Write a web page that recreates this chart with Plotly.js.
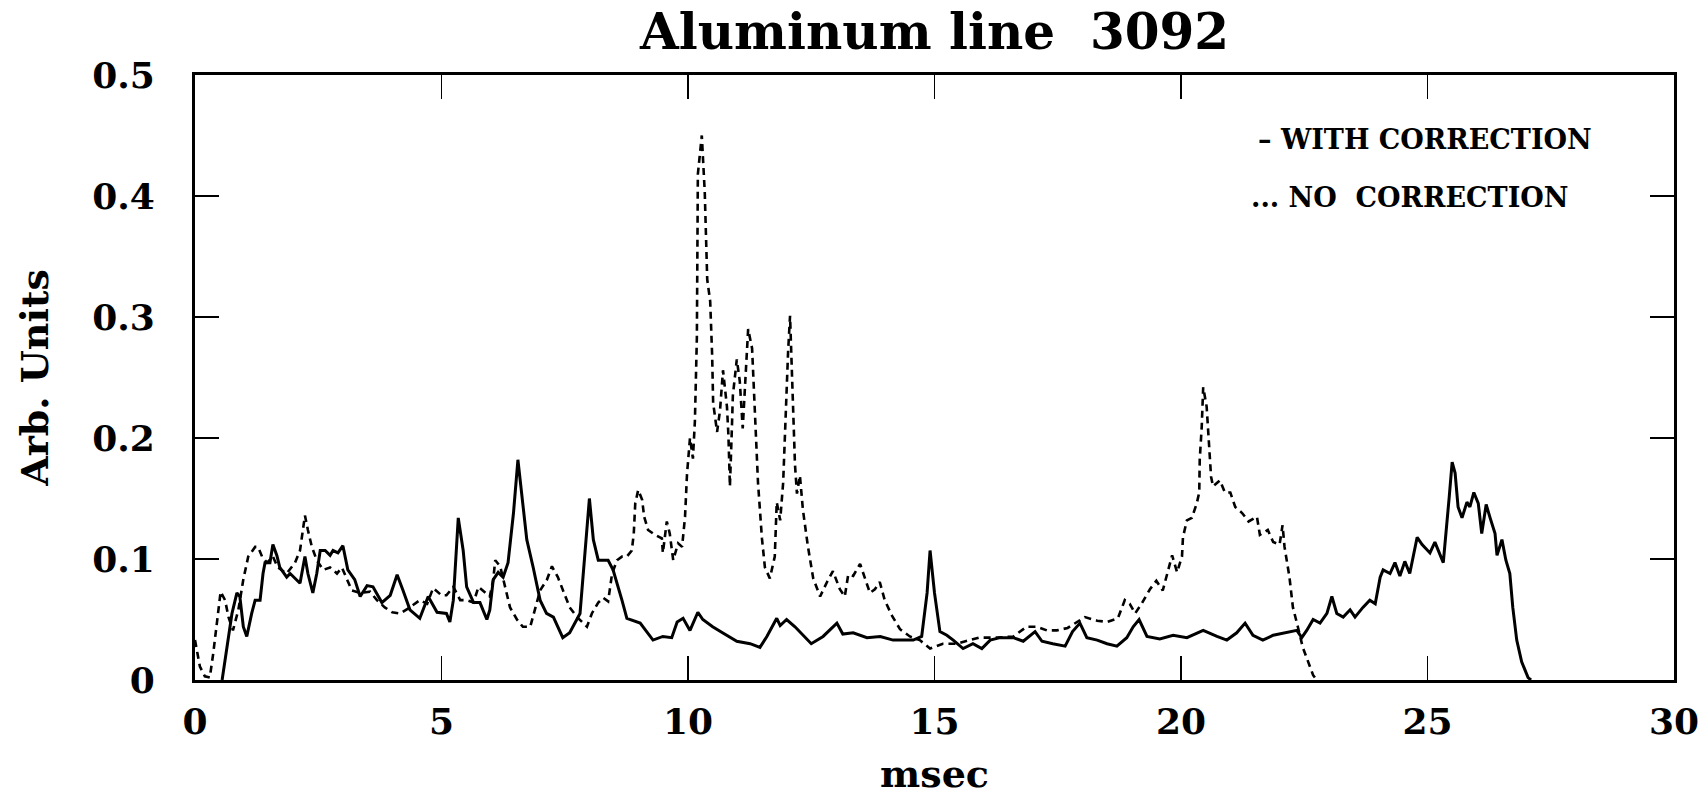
<!DOCTYPE html>
<html>
<head>
<meta charset="utf-8">
<script src="https://cdn.plot.ly/plotly-3.0.1.min.js"></script>
<style>html,body{margin:0;padding:0;background:#fff;}#chart{width:1708px;height:796px;}</style>
</head>
<body>
<div id="chart"></div>
<script>
// WITH CORRECTION (solid)
const withX = [0.55,0.65,0.75,0.85,0.91,0.98,1.05,1.15,1.22,1.32,1.38,1.42,1.52,1.58,1.66,1.72,1.86,1.93,2.03,2.13,2.23,2.29,2.39,2.47,2.54,2.64,2.74,2.8,2.9,3.0,3.1,3.24,3.35,3.49,3.61,3.79,3.96,4.1,4.22,4.36,4.56,4.73,4.91,5.1,5.17,5.24,5.34,5.44,5.51,5.65,5.78,5.92,5.98,6.05,6.15,6.25,6.35,6.46,6.55,6.63,6.73,6.86,7.0,7.13,7.27,7.46,7.6,7.81,7.94,8.0,8.08,8.18,8.38,8.48,8.66,8.76,9.03,9.29,9.49,9.67,9.78,9.9,10.04,10.2,10.3,10.5,10.7,10.99,11.26,11.46,11.6,11.8,11.87,12.0,12.17,12.5,12.74,13.02,13.14,13.35,13.63,13.9,14.16,14.57,14.74,14.85,14.91,15.0,15.11,15.25,15.38,15.58,15.78,15.96,16.13,16.33,16.6,16.8,17.04,17.18,17.4,17.65,17.8,17.95,18.09,18.3,18.5,18.7,18.9,19.03,19.15,19.31,19.57,19.84,20.12,20.45,20.73,20.93,21.13,21.3,21.46,21.66,21.87,22.15,22.35,22.45,22.55,22.68,22.82,22.96,23.06,23.16,23.29,23.43,23.53,23.69,23.83,23.94,24.04,24.1,24.24,24.34,24.44,24.54,24.64,24.79,24.89,25.05,25.15,25.32,25.39,25.44,25.5,25.56,25.62,25.7,25.8,25.86,25.94,26.03,26.1,26.19,26.27,26.37,26.41,26.51,26.59,26.67,26.73,26.81,26.91,27.04,27.1];
const withY = [0,0.027,0.055,0.072,0.069,0.044,0.036,0.055,0.066,0.066,0.088,0.097,0.097,0.112,0.103,0.093,0.085,0.088,0.084,0.080,0.102,0.088,0.072,0.088,0.107,0.107,0.103,0.107,0.105,0.111,0.091,0.083,0.069,0.078,0.077,0.064,0.070,0.087,0.074,0.058,0.051,0.069,0.056,0.055,0.048,0.066,0.134,0.107,0.077,0.064,0.064,0.050,0.058,0.083,0.089,0.085,0.097,0.138,0.182,0.151,0.116,0.093,0.066,0.055,0.052,0.035,0.039,0.055,0.121,0.150,0.116,0.099,0.099,0.091,0.066,0.051,0.047,0.033,0.036,0.035,0.048,0.051,0.041,0.056,0.050,0.044,0.039,0.032,0.030,0.027,0.036,0.051,0.045,0.050,0.044,0.030,0.036,0.047,0.038,0.039,0.035,0.036,0.033,0.033,0.036,0.072,0.107,0.072,0.040,0.037,0.033,0.026,0.030,0.026,0.033,0.035,0.035,0.032,0.040,0.032,0.030,0.028,0.040,0.047,0.035,0.033,0.030,0.028,0.035,0.044,0.050,0.036,0.034,0.037,0.035,0.041,0.036,0.033,0.039,0.047,0.037,0.033,0.037,0.039,0.041,0.035,0.041,0.050,0.047,0.055,0.069,0.055,0.052,0.058,0.052,0.060,0.066,0.063,0.085,0.091,0.088,0.097,0.086,0.098,0.088,0.118,0.112,0.105,0.114,0.097,0.126,0.151,0.180,0.171,0.143,0.134,0.147,0.143,0.155,0.146,0.121,0.145,0.134,0.121,0.103,0.116,0.099,0.088,0.060,0.033,0.015,0.002,0];

// NO CORRECTION (dashed)
const noX = [0,0.1,0.2,0.3,0.37,0.44,0.52,0.61,0.68,0.77,0.88,0.98,1.08,1.22,1.28,1.36,1.46,1.58,1.68,1.86,2.03,2.13,2.19,2.23,2.29,2.37,2.47,2.6,2.74,2.88,2.98,3.08,3.18,3.35,3.55,3.69,3.85,4.0,4.16,4.32,4.56,4.71,4.83,5.0,5.1,5.24,5.38,5.51,5.65,5.75,5.88,5.98,6.05,6.09,6.19,6.29,6.39,6.53,6.65,6.8,6.9,7.0,7.14,7.24,7.36,7.46,7.6,7.75,7.95,8.05,8.18,8.28,8.38,8.46,8.56,8.66,8.76,8.86,8.9,8.93,8.99,9.07,9.11,9.19,9.33,9.47,9.49,9.57,9.63,9.7,9.8,9.88,9.94,9.98,10.04,10.1,10.14,10.18,10.2,10.28,10.34,10.39,10.45,10.49,10.51,10.59,10.65,10.71,10.79,10.82,10.85,10.89,10.91,10.99,11.05,11.11,11.16,11.22,11.3,11.36,11.42,11.5,11.56,11.66,11.76,11.8,11.87,11.93,11.97,12.03,12.07,12.13,12.17,12.21,12.27,12.33,12.43,12.54,12.68,12.82,12.94,13.08,13.18,13.25,13.35,13.49,13.59,13.69,13.79,13.89,13.99,14.14,14.3,14.5,14.7,14.91,15.17,15.45,15.9,16.27,16.6,16.87,17.08,17.28,17.48,17.7,18.05,18.3,18.5,18.72,18.86,18.96,19.07,19.2,19.37,19.5,19.63,19.74,19.82,19.92,20.02,20.04,20.12,20.22,20.32,20.37,20.38,20.42,20.45,20.52,20.57,20.61,20.65,20.79,20.89,21.0,21.1,21.24,21.37,21.54,21.6,21.76,21.87,22.0,22.06,22.1,22.2,22.27,22.37,22.47,22.58,22.68,22.75];
const noY = [0.033,0.011,0.003,0.002,0.022,0.044,0.073,0.066,0.052,0.041,0.058,0.083,0.102,0.110,0.110,0.102,0.097,0.102,0.093,0.088,0.097,0.107,0.124,0.136,0.124,0.110,0.099,0.091,0.093,0.088,0.093,0.083,0.074,0.072,0.073,0.066,0.060,0.056,0.055,0.059,0.066,0.063,0.076,0.070,0.070,0.077,0.066,0.066,0.064,0.077,0.072,0.069,0.083,0.099,0.094,0.077,0.060,0.050,0.044,0.044,0.060,0.074,0.083,0.094,0.085,0.074,0.060,0.052,0.044,0.055,0.064,0.068,0.065,0.088,0.099,0.102,0.102,0.107,0.121,0.146,0.157,0.149,0.135,0.124,0.120,0.117,0.105,0.131,0.121,0.099,0.113,0.110,0.135,0.170,0.200,0.183,0.214,0.283,0.418,0.450,0.403,0.331,0.313,0.268,0.229,0.205,0.223,0.256,0.226,0.202,0.160,0.208,0.235,0.265,0.247,0.208,0.247,0.290,0.274,0.223,0.163,0.117,0.093,0.084,0.102,0.147,0.132,0.163,0.208,0.271,0.301,0.223,0.178,0.154,0.169,0.141,0.111,0.084,0.069,0.081,0.090,0.075,0.069,0.087,0.086,0.096,0.084,0.072,0.075,0.081,0.066,0.053,0.042,0.036,0.033,0.026,0.030,0.030,0.035,0.035,0.036,0.044,0.044,0.041,0.041,0.043,0.052,0.049,0.048,0.051,0.066,0.063,0.055,0.063,0.075,0.082,0.074,0.091,0.103,0.089,0.102,0.118,0.132,0.134,0.146,0.155,0.182,0.209,0.242,0.226,0.196,0.168,0.160,0.165,0.155,0.155,0.143,0.138,0.131,0.135,0.120,0.124,0.114,0.112,0.128,0.110,0.085,0.060,0.044,0.027,0.015,0.004,0];

const xTicks = [0,5,10,15,20,25,30];
const yTicks = [0,0.1,0.2,0.3,0.4,0.5];
const yTickText = ['0','0.1','0.2','0.3','0.4','0.5'];
const titleText = 'Aluminum line\u00a0\u00a03092';
const legendText = ['\u2013\u00a0WITH CORRECTION', '...\u00a0NO\u00a0\u00a0CORRECTION'];

const FONT = '"DejaVu Serif", "Liberation Serif", serif';

const traces = [
  {x: withX, y: withY, type: 'scatter', mode: 'lines', name: 'WITH CORRECTION',
   line: {color: '#000', width: 3, dash: 'solid'}},
  {x: noX, y: noY, type: 'scatter', mode: 'lines', name: 'NO CORRECTION',
   line: {color: '#000', width: 2.6, dash: '7px,5px'}}
];

const axisCommon = {
  showgrid: false, zeroline: false, showline: true, linecolor: '#000', linewidth: 3,
  mirror: 'ticks', ticks: 'inside', ticklen: 24, tickwidth: 1.6, tickcolor: '#000',
  tickfont: {family: FONT, size: 36, color: '#000', weight: 'bold'},
  automargin: false, fixedrange: true
};

const layout = {
  width: 1708, height: 796,
  margin: {l: 195, r: 34, t: 75, b: 116},
  paper_bgcolor: '#fff', plot_bgcolor: '#fff',
  showlegend: false,
  title: {text: titleText, font: {family: FONT, size: 50, color: '#000', weight: 'bold'},
          x: 0.5, xref: 'paper', xanchor: 'center', y: 1 - 31/796, yref: 'container', yanchor: 'middle'},
  xaxis: Object.assign({}, axisCommon, {
    range: [0, 30], tickvals: xTicks, ticktext: xTicks.map(String), ticklabelstandoff: 8,
    title: {text: 'msec', font: {family: FONT, size: 38, color: '#000', weight: 'bold'}, standoff: 20}
  }),
  yaxis: Object.assign({}, axisCommon, {
    range: [0, 0.5], tickvals: yTicks, ticktext: yTickText, ticklabelstandoff: 30,
    title: {text: 'Arb. Units', font: {family: FONT, size: 38, color: '#000', weight: 'bold'}, standoff: 32}
  }),
  annotations: [
    {text: legendText[0], xref: 'paper', yref: 'paper', x: (1256-195)/1479, y: (680-139)/605,
     xanchor: 'left', yanchor: 'middle', showarrow: false,
     font: {family: FONT, size: 27, color: '#000', weight: 'bold'}},
    {text: legendText[1], xref: 'paper', yref: 'paper', x: (1249-195)/1479, y: (680-197)/605,
     xanchor: 'left', yanchor: 'middle', showarrow: false,
     font: {family: FONT, size: 27, color: '#000', weight: 'bold'}}
  ]
};

Plotly.newPlot('chart', traces, layout, {staticPlot: true, displayModeBar: false});
</script>
</body>
</html>
